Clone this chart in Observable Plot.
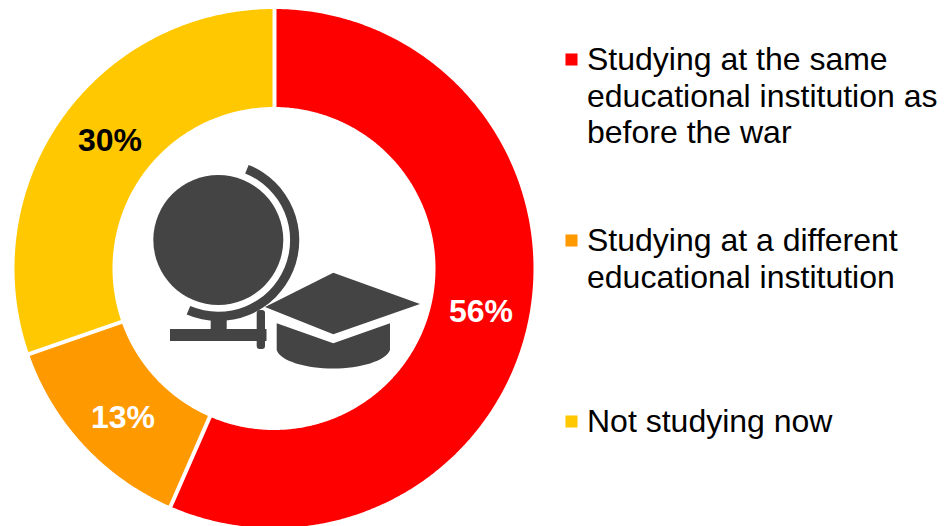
<!DOCTYPE html>
<html>
<head>
<meta charset="utf-8">
<style>
  html, body { margin: 0; padding: 0; background: #fff; overflow: hidden; }
  svg { display: block; }
</style>
<script src="https://cdn.jsdelivr.net/npm/d3@7"></script>
<script src="https://cdn.jsdelivr.net/npm/@observablehq/plot@0.6"></script>
</head>
<body>
<script>
// Share of respondents by study status, in percent
const categories = [
  "Studying at the same\neducational institution as\nbefore the war",
  "Studying at a different\neducational institution",
  "Not studying now"
];
const shares = [56, 13, 30];
const sliceColors = ["#ff0000", "#ff9900", "#ffc800"];
const labelColors = ["#ffffff", "#ffffff", "#000000"];

// Ring geometry, in the SVG's own units
const W = 944, H = 526;
const cx = 274, cy = 268.5, outerR = 259.5, innerR = 161.5, labelR = 213;
const labelNudge = [[-2, -1], [5, 4], [9, -5]];
const FONT = "Liberation Sans, Arial, sans-serif";
const legendTop = 59, legendStep = 181, legendLine = 36.8, legendFont = 32;

const total = d3.sum(shares);
const polar = (turn, r) => [
  cx + r * Math.sin(turn * 2 * Math.PI),
  cy - r * Math.cos(turn * 2 * Math.PI)
];

// Cumulative start and end of each slice as fractions of a turn
let running = 0;
const slices = shares.map((value, i) => {
  const start = running / total;
  running += value;
  return {category: categories[i], value, start, end: running / total, text: labelColors[i], i};
});

// Inner and outer edges of each slice, sampled finely along the arc
const band = slices.flatMap((s) => {
  const n = Math.ceil((s.end - s.start) * 720);
  return d3.range(n + 1).map((k) => {
    const t = s.start + (s.end - s.start) * (k / n);
    const [x1, y1] = polar(t, innerR);
    const [x2, y2] = polar(t, outerR);
    return {category: s.category, x1, y1, x2, y2};
  });
});

const legend = categories.map((category, i) => ({
  category,
  y: legendTop + i * legendStep,
  lines: category.split("\n").length
}));

// Globe and graduation cap in the middle of the ring
function emblem() {
  const g = d3.create("svg:g").attr("fill", "#444444");
  g.append("circle").attr("cx", 218.3).attr("cy", 240).attr("r", 65);
  g.append("path")
    .attr("transform", "translate(218.3,240)")
    .attr("d", d3.arc()({
      innerRadius: 71.8, outerRadius: 81,
      startAngle: 22 * Math.PI / 180, endAngle: 203 * Math.PI / 180
    }));
  g.append("rect").attr("x", 210.7).attr("y", 318).attr("width", 16).attr("height", 12);
  g.append("rect").attr("x", 170).attr("y", 329).attr("width", 96.5).attr("height", 12);
  g.append("rect").attr("x", 256.7).attr("y", 310).attr("width", 8.3).attr("height", 39).attr("rx", 3);
  g.append("path").attr("d", "M333.3,272.7L420,304L333.3,334.3L265,307Z");
  g.append("path").attr("d", "M276.7,323.3L333.3,343.3L390,323.3V350C386,361 360,368.5 333.3,368.5C306,368.5 280,361 276.7,350Z");
  return g.node();
}

const chart = Plot.plot({
  width: W,
  height: H,
  margin: 0,
  style: {fontFamily: FONT, background: "#fff"},
  x: {domain: [0, W], range: [0, W], axis: null},
  y: {domain: [0, H], range: [0, H], axis: null},
  color: {domain: categories, range: sliceColors},
  marks: [
    Plot.area(band, {x1: "x1", y1: "y1", x2: "x2", y2: "y2", z: "category", fill: "category"}),
    // White gaps between neighbouring slices
    Plot.link(slices, {
      x1: (d) => polar(d.start, innerR - 2)[0],
      y1: (d) => polar(d.start, innerR - 2)[1],
      x2: (d) => polar(d.start, outerR + 2)[0],
      y2: (d) => polar(d.start, outerR + 2)[1],
      stroke: "#fff",
      strokeWidth: 4
    }),
    Plot.text(slices, {
      x: (d) => polar((d.start + d.end) / 2, labelR)[0] + labelNudge[d.i][0],
      y: (d) => polar((d.start + d.end) / 2, labelR)[1] + labelNudge[d.i][1],
      text: (d) => `${d.value}%`,
      fill: "text",
      fontSize: legendFont,
      fontWeight: "bold"
    }),
    emblem,
    Plot.dot(legend, {
      x: () => 571,
      y: "y",
      symbol: "square",
      r: 6.8,
      fill: "category"
    }),
    Plot.text(legend, {
      x: () => 586.5,
      y: (d) => d.y - 1.5 + (d.lines - 1) * legendLine / 2,
      text: "category",
      textAnchor: "start",
      lineAnchor: "middle",
      lineHeight: legendLine / legendFont,
      fill: "#000",
      fontSize: legendFont
    })
  ]
});
document.body.appendChild(chart);
</script>
</body>
</html>
